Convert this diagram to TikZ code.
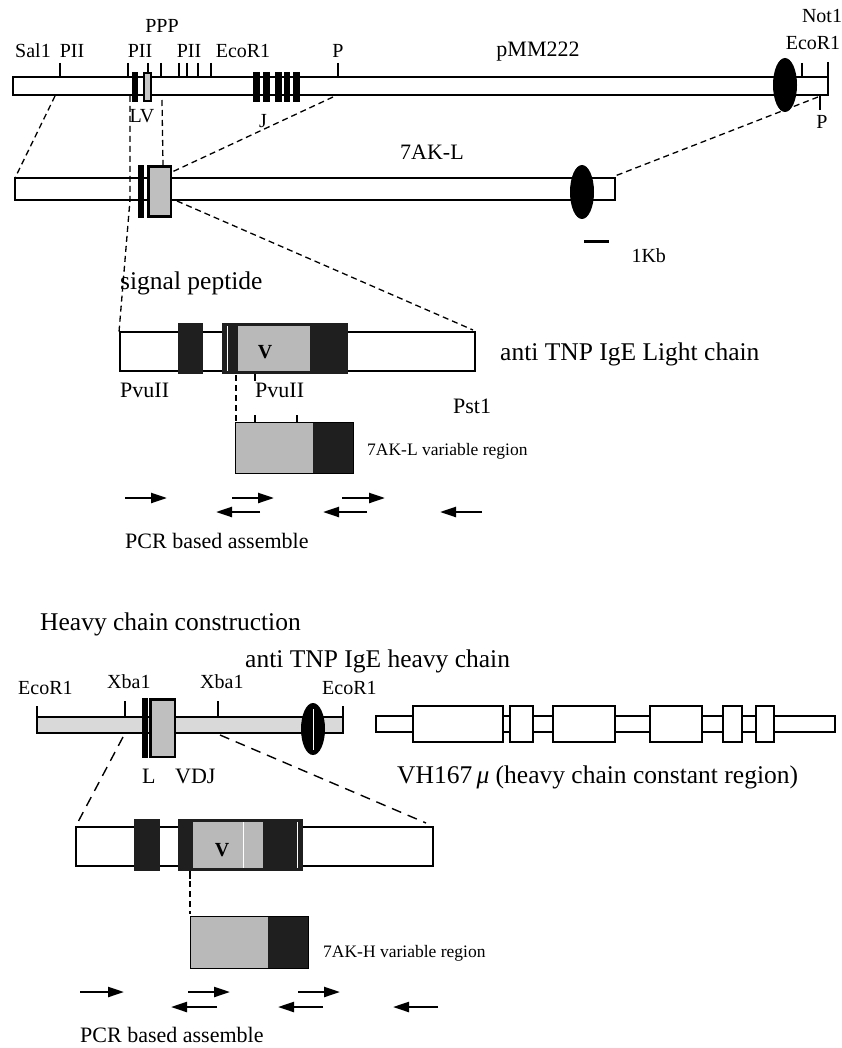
\documentclass[tikz,border=0pt]{standalone}
\usepackage{fontspec}
\setmainfont{Liberation Serif}
\usetikzlibrary{arrows.meta}
\begin{document}
\begin{tikzpicture}[x=1pt,y=-1pt,
  bar/.style={draw=black, line width=1.2pt, fill=white},
  vbox/.style={draw=black, line width=2.6pt, fill=gray!50},
  dk/.style={fill=black!88},
  gr/.style={fill=gray!55},
  dsh/.style={line width=1.3pt, dash pattern=on 6pt off 4pt},
  dshl/.style={line width=1.4pt, dash pattern=on 10pt off 7pt},
  tk/.style={line width=1.2pt},
  lab/.style={font=\fontsize{20}{20}\selectfont, anchor=base},
  big/.style={font=\fontsize{25.5}{26}\selectfont, anchor=base west, inner sep=0pt},
  mid/.style={font=\fontsize{22}{22}\selectfont, anchor=base west, inner sep=0pt},
  sm/.style={font=\fontsize{17.5}{18}\selectfont, anchor=base west, inner sep=0pt},
  vl/.style={font=\fontsize{20}{20}\selectfont\bfseries},
  pr/.style={line width=2.3pt, -{Triangle[length=16pt,width=10pt]}},
]
\useasboundingbox (0,0) rectangle (842,1048);

% ---------- pMM222 ----------
\draw[bar] (13,77) rectangle (828,95);
\foreach \x in {60,128,148,161,179,187,198,211,338,802} \draw[tk] (\x,63) -- (\x,77);
\draw[tk] (828,62) -- (828,77);
\draw[tk] (820,95) -- (820,110);
\fill (132,72) rectangle (138,102);
\draw[line width=1.6pt, fill=gray!45] (144,73) rectangle (151,101);
\foreach \a/\b in {253/260,263/270,275/282,284/290,293/300} \fill (\a,72) rectangle (\b,102);
\fill (785,85) ellipse [x radius=12, y radius=27];

\node[lab] (sal) at (33,58) {Sal1};
\node[lab] (p1) at (72,58) {PII};
\node[lab] (p2) at (140,58) {PII};
\node[lab] (ppp) at (162,33) {PPP};
\node[lab] (p3) at (189,58) {PII};
\node[lab] (eco1) at (243,58) {EcoR1};
\node[lab] (pp) at (338,58) {P};
\node[font=\fontsize{22}{22}\selectfont, anchor=base] (pmm) at (538,57) {pMM222};
\node[lab, inner sep=0pt] (not) at (822,23) {Not1};
\node[lab, inner sep=0pt] (eco2) at (813,50) {EcoR1};
\node[lab] (pr1) at (822,129) {P};
\node[lab] (lv) at (142,123) {LV};
\node[lab] (jj) at (263,128) {J};

% ---------- 7AK-L ----------
\draw[bar] (15,178) rectangle (615,200);
\fill (138,165) rectangle (144,218);
\draw[vbox] (148.5,166.5) rectangle (171,216.5);
\fill (582,192) ellipse [x radius=12, y radius=27];
\draw[line width=3pt] (584,242) -- (609,242);
\node[mid] (akl) at (400,160) {7AK-L};
\node[lab, anchor=base west] (kb) at (628,263) {1Kb};
\node[big] (sig) at (120,290) {signal peptide};

% dashed connectors top
\coordinate (a1) at (55,96);  \coordinate (b1) at (15,178);
\coordinate (a2) at (130,96); \coordinate (m2) at (130,200); \coordinate (c2) at (119,332);
\coordinate (a3) at (162,100);\coordinate (b3) at (163,165);
\coordinate (a4) at (333,97); \coordinate (b4) at (172,172);
\coordinate (a5) at (818,97); \coordinate (b5) at (615,176);
\coordinate (a6) at (177,201);\coordinate (b6) at (473,330);
\draw[dsh] (a1) -- (b1);
\draw[dsh] (a2) -- (m2) -- (c2);
\draw[dsh] (a3) -- (b3);
\draw[dsh] (a4) -- (b4);
\draw[dsh] (a5) -- (b5);
\draw[dsh] (a6) -- (b6);

% ---------- light chain ----------
\draw[bar] (120,332) rectangle (475,371);
\fill[dk] (178,323) rectangle (203,374);
\fill[dk] (222,323) rectangle (348,374);
\fill[gr] (238,326) rectangle (310,371);
\draw[white, line width=0.7pt] (227,326) -- (227,371);
\node[vl] (vL) at (265,352) {V};
\draw[tk] (255,374) -- (255,381);
\node[mid] (pv1) at (120,397) {PvuII};
\node[mid] (pv2) at (255,397) {PvuII};
\node[mid] (pst) at (453,413) {Pst1};
\node[big] (ltc) at (500,360) {anti TNP IgE Light chain};

\coordinate (a7) at (236,375); \coordinate (b7) at (236,422);
\draw[dsh] (a7) -- (b7);
\fill[gr] (235,422) rectangle (313,473);
\fill[dk] (313,422) rectangle (353,473);
\draw[line width=1pt] (235,422) rectangle (353,473);
\draw[tk] (255,415) -- (255,422);
\draw[tk] (297,415) -- (297,422);
\node[sm] (vrl) at (367,455) {7AK-L variable region};

\coordinate (r1s) at (125,498); \coordinate (r1e) at (167,498);
\coordinate (r2s) at (232,498); \coordinate (r2e) at (274,498);
\coordinate (r3s) at (342,498); \coordinate (r3e) at (385,498);
\coordinate (l1s) at (260,512); \coordinate (l1e) at (216,512);
\coordinate (l2s) at (367,512); \coordinate (l2e) at (323,512);
\coordinate (l3s) at (482,512); \coordinate (l3e) at (440,512);
\draw[pr] (r1s) -- (r1e); \draw[pr] (r2s) -- (r2e); \draw[pr] (r3s) -- (r3e);
\draw[pr] (l1s) -- (l1e); \draw[pr] (l2s) -- (l2e); \draw[pr] (l3s) -- (l3e);
\node[mid] (pcr1) at (125,548) {PCR based assemble};

% ---------- heavy chain ----------
\node[big] (hcc) at (40,630) {Heavy chain construction};
\node[big] (htc) at (245,667) {anti TNP IgE heavy chain};

\draw[line width=1.2pt, fill=gray!30] (37,717) rectangle (343,733);
\draw[tk] (37,706) -- (37,717);
\draw[tk] (343,706) -- (343,717);
\draw[tk] (125,701) -- (125,717);
\draw[tk] (218,701) -- (218,717);
\fill (142,698) rectangle (148,758);
\draw[vbox] (150.5,699.5) rectangle (175,757);
\fill (313,729) ellipse [x radius=12, y radius=26];
\draw[white, line width=0.8pt] (313,709) -- (313,750);
\node[lab, anchor=base west, inner sep=0pt] (e3) at (18,694) {EcoR1};
\node[lab, anchor=base west, inner sep=0pt] (x1) at (107,688) {Xba1};
\node[lab, anchor=base west, inner sep=0pt] (x2) at (200,688) {Xba1};
\node[lab, anchor=base west, inner sep=0pt] (e4) at (322,694) {EcoR1};
\node[mid] (ll) at (142,783) {L};
\node[mid] (vdj) at (175,783) {VDJ};

% constant region
\draw[bar] (376,716) rectangle (835,732);
\foreach \a/\b in {413/503,510/533,553/615,650/702,723/742,756/774}
  \draw[bar] (\a,706) rectangle (\b,742);
\node[big] (vh) at (397,783) {VH167\,\textit{μ} (heavy chain constant region)};

% dashed heavy
\coordinate (a8) at (123,737); \coordinate (b8) at (78,822);
\coordinate (a9) at (220,735); \coordinate (b9) at (426,823);
\draw[dshl] (a8) -- (b8);
\draw[dshl] (a9) -- (b9);

\draw[bar] (76,827) rectangle (433,866);
\fill[dk] (134,819) rectangle (160,871);
\fill[dk] (178,819) rectangle (303,871);
\fill[gr] (193,822) rectangle (263,868);
\draw[white, line width=0.7pt] (243,822) -- (243,868);
\draw[white, line width=0.7pt] (297,822) -- (297,868);
\node[vl] (vH) at (222,850) {V};
\draw[tk] (190,871) -- (190,879);

\coordinate (a10) at (190,871); \coordinate (b10) at (190,914);
\draw[dsh] (a10) -- (b10);
\fill[gr] (190,916) rectangle (268,968);
\fill[dk] (268,916) rectangle (308,968);
\draw[line width=1pt] (190,916) rectangle (308,968);
\node[sm] (vrh) at (323,957) {7AK-H variable region};

\coordinate (s1s) at (80,992);  \coordinate (s1e) at (124,992);
\coordinate (s2s) at (188,992); \coordinate (s2e) at (230,992);
\coordinate (s3s) at (298,992); \coordinate (s3e) at (340,992);
\coordinate (t1s) at (217,1007);\coordinate (t1e) at (171,1007);
\coordinate (t2s) at (323,1007);\coordinate (t2e) at (278,1007);
\coordinate (t3s) at (438,1007);\coordinate (t3e) at (393,1007);
\draw[pr] (s1s) -- (s1e); \draw[pr] (s2s) -- (s2e); \draw[pr] (s3s) -- (s3e);
\draw[pr] (t1s) -- (t1e); \draw[pr] (t2s) -- (t2e); \draw[pr] (t3s) -- (t3e);
\node[mid] (pcr2) at (80,1042) {PCR based assemble};
\end{tikzpicture}
\end{document}
